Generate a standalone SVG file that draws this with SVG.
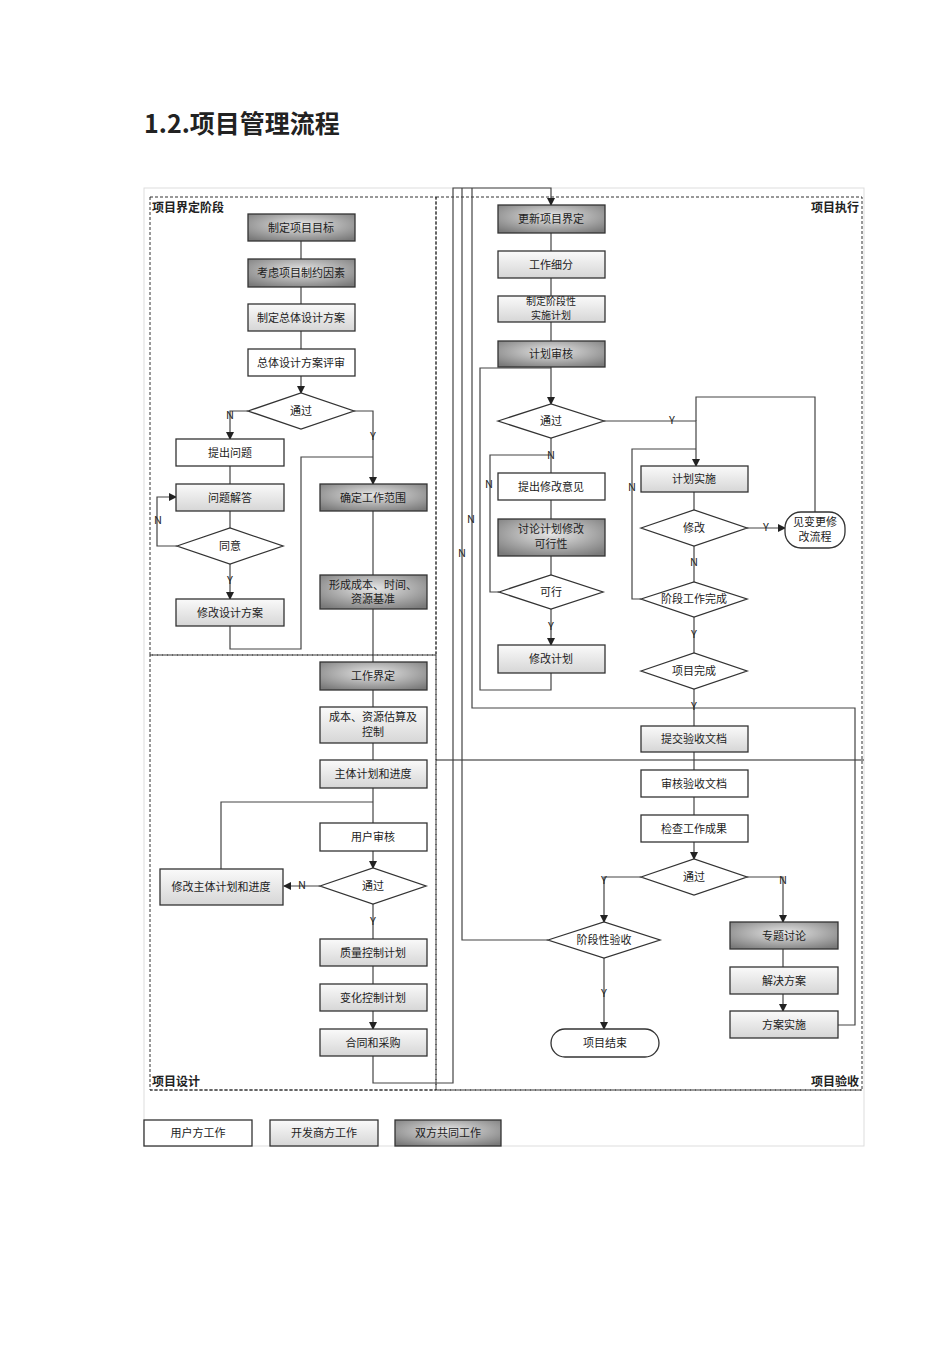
<svg xmlns="http://www.w3.org/2000/svg" width="950" height="1345" viewBox="0 0 950 1345">
<style>
text{font-family:"Noto Sans CJK SC","Noto Sans",sans-serif;font-size:11px;fill:#222;text-anchor:middle}
.t{font-size:12px;font-weight:bold;text-anchor:start}
.yn{font-size:9px}
.s{font-size:10px}
.w{fill:#fff;stroke:#333;stroke-width:1.3}
.l{fill:url(#gl);stroke:#333;stroke-width:1.3}
.d{fill:url(#gd);stroke:#333;stroke-width:1.3}
.ln{fill:none;stroke:#444;stroke-width:1.2}
.ds{fill:none;stroke:#333;stroke-width:1;stroke-dasharray:3,2}
</style>
<defs>
<radialGradient id="gd" cx="0.5" cy="0.4" r="0.7"><stop offset="0" stop-color="#e6e6e6"/><stop offset="1" stop-color="#7a7a7a"/></radialGradient>
<linearGradient id="gl" x1="0" y1="0" x2="0" y2="1"><stop offset="0" stop-color="#fafafa"/><stop offset="1" stop-color="#d6d6d6"/></linearGradient>
<marker id="a" markerWidth="8" markerHeight="8" refX="7" refY="4" orient="auto" markerUnits="userSpaceOnUse"><path d="M0,0L8,4L0,8z" fill="#222"/></marker>
</defs>
<rect width="950" height="1345" fill="#fff"/>
<text x="144" y="133" style="font-size:25px;font-weight:bold;text-anchor:start">1.2.项目管理流程</text>
<g id="frame">
<rect x="144" y="188" width="720" height="958" fill="none" stroke="#ddd"/>
<rect class="ds" x="150" y="197" width="286" height="458"/>
<rect class="ds" x="150" y="655" width="286" height="435"/>
<rect class="ds" x="436" y="197" width="426" height="893"/>
<line x1="436" y1="760" x2="864" y2="760" stroke="#222" stroke-width="1.2"/>
<line class="ds" x1="150" y1="1090" x2="862" y2="1090"/>
<text class="t" x="152" y="212">项目界定阶段</text>
<text class="t" x="152" y="1086">项目设计</text>
<text class="t" x="811" y="212">项目执行</text>
<text class="t" x="811" y="1086">项目验收</text>
</g>
<g id="connectors">
<path class="ln" d="M301,241V259M301,287V304M301,331V349M301,376V393" marker-end="url(#a)"/>
<path class="ln" d="M248,411H230V439" marker-end="url(#a)"/>
<path class="ln" d="M354,411H373V484" marker-end="url(#a)"/>
<path class="ln" d="M230,466V484M230,511V528M230,564V599" marker-end="url(#a)"/>
<path class="ln" d="M177,546H157V497H176" marker-end="url(#a)"/>
<path class="ln" d="M230,626V649H301V457H373"/>
<path class="ln" d="M373,511V575M373,609V662M373,690V707M373,743V760M373,788V823M373,851V868" marker-end="url(#a)"/>
<path class="ln" d="M373,802H221V869"/>
<path class="ln" d="M320,886H284" marker-end="url(#a)"/>
<path class="ln" d="M373,904V939M373,966V984M373,1011V1029" marker-end="url(#a)"/>
<path class="ln" d="M373,1056V1083H453V188H551V205" marker-end="url(#a)"/>
<path class="ln" d="M548,940H462V188"/>
<path class="ln" d="M838,1025H855V708H472V188"/>
<path class="ln" d="M551,233V251M551,278V296M551,322V341M551,367V404" marker-end="url(#a)"/>
<path class="ln" d="M551,673V690H480V368H551"/>
<path class="ln" d="M551,438V473M551,500V519M551,556V575M551,609V645" marker-end="url(#a)"/>
<path class="ln" d="M499,592H490V455H551"/>
<path class="ln" d="M604,421H696V466" marker-end="url(#a)"/>
<path class="ln" d="M696,421V397H815V512"/>
<path class="ln" d="M694,492V510M694,546V582M694,617V653M694,689V726M694,752V770M694,797V815M694,842V859" marker-end="url(#a)"/>
<path class="ln" d="M747,528H785" marker-end="url(#a)"/>
<path class="ln" d="M641,599H632V449H696"/>
<path class="ln" d="M641,877H604V922" marker-end="url(#a)"/>
<path class="ln" d="M604,958V1029" marker-end="url(#a)"/>
<path class="ln" d="M747,877H783V922" marker-end="url(#a)"/>
<path class="ln" d="M783,949V967M783,994V1011" marker-end="url(#a)"/>
<g class="yn">
<text x="230" y="419">N</text><text x="373" y="440">Y</text><text x="158" y="524">N</text><text x="230" y="584">Y</text>
<text x="302" y="889">N</text><text x="373" y="925">Y</text>
<text x="672" y="424">Y</text><text x="551" y="459">N</text><text x="489" y="488">N</text><text x="551" y="630">Y</text>
<text x="471" y="523">N</text><text x="462" y="557">N</text><text x="632" y="491">N</text>
<text x="766" y="531">Y</text><text x="694" y="566">N</text><text x="694" y="638">Y</text><text x="694" y="710">Y</text>
<text x="604" y="884">Y</text><text x="783" y="884">N</text><text x="604" y="997">Y</text>
</g>
</g>
<g id="n1"><rect class="d" x="248" y="214" width="107" height="27"/><text x="301" y="232">制定项目目标</text></g>
<g id="n2"><rect class="d" x="248" y="259" width="107" height="28"/><text x="301" y="277">考虑项目制约因素</text></g>
<g id="n3"><rect class="l" x="248" y="304" width="107" height="27"/><text x="301" y="322">制定总体设计方案</text></g>
<g id="n4"><rect class="w" x="248" y="349" width="107" height="27"/><text x="301" y="367">总体设计方案评审</text></g>
<g id="n5"><polygon class="w" points="248,411 301,393 354,411 301,429"/><text x="301" y="415">通过</text></g>
<g id="n6"><rect class="w" x="176" y="439" width="108" height="27"/><text x="230" y="457">提出问题</text></g>
<g id="n7"><rect class="l" x="176" y="484" width="108" height="27"/><text x="230" y="502">问题解答</text></g>
<g id="n8"><polygon class="w" points="177,546 230,528 283,546 230,564"/><text x="230" y="550">同意</text></g>
<g id="n9"><rect class="l" x="176" y="599" width="108" height="27"/><text x="230" y="617">修改设计方案</text></g>
<g id="n10"><rect class="d" x="320" y="484" width="107" height="27"/><text x="373" y="502">确定工作范围</text></g>
<g id="n11"><rect class="d" x="320" y="575" width="107" height="34"/><text x="373" y="589">形成成本、时间、</text><text x="373" y="603">资源基准</text></g>
<g id="n12"><rect class="d" x="320" y="662" width="107" height="28"/><text x="373" y="680">工作界定</text></g>
<g id="n13"><rect class="l" x="320" y="707" width="107" height="36"/><text x="373" y="721">成本、资源估算及</text><text x="373" y="736">控制</text></g>
<g id="n14"><rect class="l" x="320" y="760" width="107" height="28"/><text x="373" y="778">主体计划和进度</text></g>
<g id="n15"><rect class="w" x="320" y="823" width="107" height="28"/><text x="373" y="841">用户审核</text></g>
<g id="n16"><polygon class="w" points="320,886 373,868 426,886 373,904"/><text x="373" y="890">通过</text></g>
<g id="n17"><rect class="l" x="160" y="869" width="123" height="36"/><text x="221" y="891">修改主体计划和进度</text></g>
<g id="n18"><rect class="l" x="320" y="939" width="107" height="27"/><text x="373" y="957">质量控制计划</text></g>
<g id="n19"><rect class="l" x="320" y="984" width="107" height="27"/><text x="373" y="1002">变化控制计划</text></g>
<g id="n20"><rect class="l" x="320" y="1029" width="107" height="27"/><text x="373" y="1047">合同和采购</text></g>
<g id="n21"><rect class="d" x="498" y="205" width="107" height="28"/><text x="551" y="223">更新项目界定</text></g>
<g id="n22"><rect class="l" x="498" y="251" width="107" height="27"/><text x="551" y="269">工作细分</text></g>
<g id="n23"><rect class="l" x="498" y="296" width="107" height="26"/><text class="s" x="551" y="305">制定阶段性</text><text class="s" x="551" y="319">实施计划</text></g>
<g id="n24"><rect class="d" x="498" y="341" width="107" height="26"/><text x="551" y="358">计划审核</text></g>
<g id="n25"><polygon class="w" points="498,421 551,404 604,421 551,438"/><text x="551" y="425">通过</text></g>
<g id="n26"><rect class="w" x="498" y="473" width="107" height="27"/><text x="551" y="491">提出修改意见</text></g>
<g id="n27"><rect class="d" x="498" y="519" width="107" height="37"/><text x="551" y="533">讨论计划修改</text><text x="551" y="548">可行性</text></g>
<g id="n28"><polygon class="w" points="499,592 551,575 603,592 551,609"/><text x="551" y="596">可行</text></g>
<g id="n29"><rect class="l" x="498" y="645" width="107" height="28"/><text x="551" y="663">修改计划</text></g>
<g id="n30"><rect class="l" x="641" y="466" width="107" height="26"/><text x="694" y="483">计划实施</text></g>
<g id="n31"><polygon class="w" points="641,528 694,510 747,528 694,546"/><text x="694" y="532">修改</text></g>
<g id="n32"><rect class="w" x="785" y="512" width="60" height="36" rx="16"/><text x="815" y="526">见变更修</text><text x="815" y="541">改流程</text></g>
<g id="n33"><polygon class="w" points="641,599 694,582 747,599 694,617"/><text x="694" y="603">阶段工作完成</text></g>
<g id="n34"><polygon class="w" points="641,671 694,653 747,671 694,689"/><text x="694" y="675">项目完成</text></g>
<g id="n35"><rect class="l" x="641" y="726" width="107" height="26"/><text x="694" y="743">提交验收文档</text></g>
<g id="n36"><rect class="w" x="641" y="770" width="107" height="27"/><text x="694" y="788">审核验收文档</text></g>
<g id="n37"><rect class="w" x="641" y="815" width="107" height="27"/><text x="694" y="833">检查工作成果</text></g>
<g id="n38"><polygon class="w" points="641,877 694,859 747,877 694,895"/><text x="694" y="881">通过</text></g>
<g id="n39"><polygon class="w" points="548,940 604,922 660,940 604,958"/><text x="604" y="944">阶段性验收</text></g>
<g id="n40"><rect class="w" x="551" y="1029" width="108" height="28" rx="14"/><text x="605" y="1047">项目结束</text></g>
<g id="n41"><rect class="d" x="730" y="922" width="108" height="27"/><text x="784" y="940">专题讨论</text></g>
<g id="n42"><rect class="l" x="730" y="967" width="108" height="27"/><text x="784" y="985">解决方案</text></g>
<g id="n43"><rect class="l" x="730" y="1011" width="108" height="27"/><text x="784" y="1029">方案实施</text></g>
<g id="legend">
<rect class="w" x="144" y="1120" width="108" height="26"/><text x="198" y="1137">用户方工作</text>
<rect class="l" x="270" y="1120" width="108" height="26"/><text x="324" y="1137">开发商方工作</text>
<rect class="d" x="395" y="1120" width="106" height="26"/><text x="448" y="1137">双方共同工作</text>
</g>
</svg>
